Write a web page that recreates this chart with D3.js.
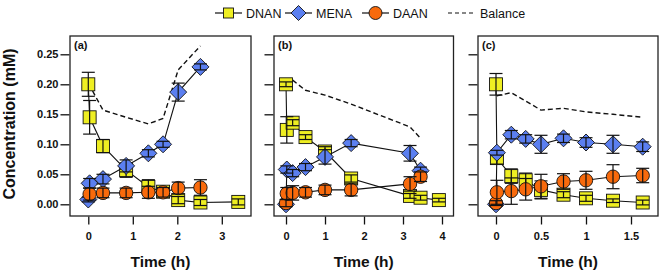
<!DOCTYPE html>
<html>
<head>
<meta charset="utf-8">
<script src="https://cdn.jsdelivr.net/npm/d3@7"></script>
<style>
  body { margin: 0; background: #fff; }
  svg { display: block; font-family: "Liberation Sans", Arial, sans-serif; }
</style>
</head>
<body>
<script>
// series names / colours
const seriesNames = ["DNAN", "MENA", "DAAN"];
const seriesColors = ["#eeee22", "#5b7ff0", "#f86a0c"];

// panel (a)
const timeA = [0, 0.03, 0.33, 0.85, 1.35, 1.68, 2.02, 2.52, 3.37];
const dnanA = [0.200, 0.145, 0.097, 0.057, 0.029, 0.021, 0.007, 0.003, 0.004];
const dnanErrA = [0.020, 0.028, 0.011, 0.012, 0.012, 0.006, 0.006, 0.005, 0.005];
const menaA = [0.008, 0.035, 0.042, 0.064, 0.085, 0.100, 0.187, 0.229, null];
const menaErrA = [0.004, 0.008, 0.008, 0.010, 0.006, 0.005, 0.015, 0.005, null];
const daanA = [null, 0.017, 0.019, 0.019, 0.020, 0.020, 0.027, 0.028, null];
const daanErrA = [null, 0.010, 0.008, 0.008, 0.010, 0.008, 0.010, 0.013, null];
const balanceA = [0.200, 0.198, 0.157, 0.145, 0.134, 0.143, 0.224, 0.264, null];

// panel (b)
const timeB = [0, 0.02, 0.17, 0.5, 1.0, 1.67, 3.18, 3.45, 3.92];
const dnanB = [0.200, 0.124, 0.136, 0.112, 0.088, 0.043, 0.014, 0.011, 0.007];
const dnanErrB = [0.004, 0.022, 0.005, 0.004, 0.008, 0.006, 0.004, 0.004, 0.003];
const menaB = [0.000, 0.058, 0.052, 0.062, 0.079, 0.102, 0.085, 0.056, null];
const menaErrB = [0.003, 0.006, 0.006, 0.006, 0.012, 0.006, 0.013, 0.006, null];
const daanB = [0.002, 0.018, 0.019, 0.020, 0.024, 0.024, 0.034, 0.046, null];
const daanErrB = [0.006, 0.010, 0.012, 0.008, 0.008, 0.010, 0.012, 0.008, null];
const balanceB = [0.200, 0.200, 0.207, 0.190, 0.182, 0.167, 0.129, 0.110, null];

// panel (c)
const timeC = [0, 0.01, 0.17, 0.33, 0.5, 0.75, 1.0, 1.3, 1.63];
const dnanC = [0.200, 0.077, 0.047, 0.040, 0.024, 0.016, 0.010, 0.006, 0.003];
const dnanErrC = [0.018, 0.010, 0.012, 0.012, 0.015, 0.005, 0.005, 0.003, 0.004];
const menaC = [0.000, 0.086, 0.116, 0.109, 0.100, 0.110, 0.103, 0.100, 0.096];
const menaErrC = [0.003, 0.004, 0.007, 0.007, 0.015, 0.007, 0.008, 0.015, 0.008];
const daanC = [0.002, 0.020, 0.022, 0.025, 0.030, 0.038, 0.040, 0.046, 0.048];
const daanErrC = [0.004, 0.020, 0.022, 0.018, 0.020, 0.013, 0.015, 0.020, 0.012];
const balanceC = [null, 0.181, 0.186, 0.172, 0.157, 0.160, 0.154, 0.150, 0.145];

// axes ticks
const yTicks = [0, 0.05, 0.10, 0.15, 0.20, 0.25];
const xTicksA = [0, 1, 2, 3];
const xTicksB = [0, 1, 2, 3, 4];
const xTicksC = [0, 0.5, 1, 1.5];

const W = 661, H = 273;
const plotTop = 36, plotBottom = 216;

const panels = [
  { label: "(a)", left: 70, right: 251, dom: [-0.411, 3.656], ticks: xTicksA, t: timeA,
    vals: [dnanA, menaA, daanA], errs: [dnanErrA, menaErrA, daanErrA], bal: balanceA, yLabels: true },
  { label: "(b)", left: 274, right: 453.5, dom: [-0.308, 4.295], ticks: xTicksB, t: timeB,
    vals: [dnanB, menaB, daanB], errs: [dnanErrB, menaErrB, daanErrB], bal: balanceB, yLabels: false },
  { label: "(c)", left: 478, right: 658, dom: [-0.2, 1.8], ticks: xTicksC, t: timeC,
    vals: [dnanC, menaC, daanC], errs: [dnanErrC, menaErrC, daanErrC], bal: balanceC, yLabels: false }
];

const svg = d3.select("body").append("svg")
  .attr("width", W)
  .attr("height", H);

const y = d3.scaleLinear().domain([-0.0195, 0.2805]).range([plotBottom, plotTop]);

// marker drawing
function marker(sel, kind, color) {
  if (kind === 0) {
    sel.append("rect").attr("x", -6.5).attr("y", -6.5).attr("width", 13).attr("height", 13);
  } else if (kind === 1) {
    sel.append("path").attr("d", "M0,-8.5L8.5,0L0,8.5L-8.5,0Z");
  } else {
    sel.append("circle").attr("r", 6.7);
  }
  sel.selectAll("rect,path,circle")
    .attr("fill", color)
    .attr("stroke", "#111")
    .attr("stroke-width", 0.9);
}

panels.forEach((p) => {
  const x = d3.scaleLinear().domain(p.dom).range([p.left, p.right]);
  const g = svg.append("g");

  // y axis
  const ya = d3.axisLeft(y).tickValues(yTicks).tickSize(9).tickPadding(2)
    .tickFormat(p.yLabels ? d3.format(".2f") : "");
  g.append("g").attr("transform", `translate(${p.left - 0.5},0)`).call(ya)
    .call((s) => s.select(".domain").remove());

  // x axis
  const xa = d3.axisBottom(x).tickValues(p.ticks).tickSize(8).tickPadding(8)
    .tickFormat(d3.format("~g"));
  g.append("g").attr("transform", `translate(0,${plotBottom + 0.5})`).call(xa)
    .call((s) => s.select(".domain").remove());

  g.selectAll(".tick line").attr("stroke", "#111").attr("stroke-width", 1.3);
  g.selectAll(".tick text").attr("font-size", 11).attr("font-weight", "bold")
    .attr("fill", "#111").attr("font-family", "Liberation Sans, Arial, sans-serif");

  // balance
  const pts = p.t.map((t, i) => [t, p.bal[i]]);
  const line = d3.line().defined((d) => d[1] != null).x((d) => x(d[0])).y((d) => y(d[1]));
  g.append("path").attr("d", line(pts))
    .attr("fill", "none").attr("stroke", "#111").attr("stroke-width", 1.4)
    .attr("stroke-dasharray", "5,3");

  // series
  p.vals.forEach((vals, k) => {
    const data = p.t.map((t, i) => ({ t: t, v: vals[i], e: p.errs[k][i] })).filter((d) => d.v != null);
    g.append("path")
      .attr("d", d3.line().x((d) => x(d.t)).y((d) => y(d.v))(data))
      .attr("fill", "none").attr("stroke", "#111").attr("stroke-width", 1.1);

    data.forEach((d) => {
      const m = g.append("g").attr("transform", `translate(${x(d.t)},${y(d.v)})`);
      marker(m, k, seriesColors[k]);
    });

    // error bars over markers
    const eb = g.append("g").attr("stroke", "#111").attr("stroke-width", 1.2);
    data.forEach((d) => {
      const cx = x(d.t), y1 = y(d.v + d.e), y2 = y(d.v - d.e);
      eb.append("line").attr("x1", cx).attr("x2", cx).attr("y1", y1).attr("y2", y2);
      eb.append("line").attr("x1", cx - 6.5).attr("x2", cx + 6.5).attr("y1", y1).attr("y2", y1);
      eb.append("line").attr("x1", cx - 6.5).attr("x2", cx + 6.5).attr("y1", y2).attr("y2", y2);
    });
  });

  // frame
  g.append("rect")
    .attr("x", p.left).attr("y", plotTop)
    .attr("width", p.right - p.left).attr("height", plotBottom - plotTop)
    .attr("fill", "none").attr("stroke", "#222").attr("stroke-width", 1.3);

  g.append("text").attr("x", p.left + 4).attr("y", plotTop + 13)
    .attr("font-size", 11).attr("font-weight", "bold").attr("fill", "#111")
    .text(p.label);

  g.append("text").attr("x", (p.left + p.right) / 2).attr("y", 267)
    .attr("text-anchor", "middle").attr("font-size", 15.5).attr("font-weight", "bold")
    .attr("fill", "#111").text("Time (h)");
});

// y title
svg.append("text")
  .attr("transform", `translate(15,${(plotTop + plotBottom) / 2 - 2}) rotate(-90)`)
  .attr("text-anchor", "middle").attr("font-size", 16).attr("font-weight", "bold")
  .attr("fill", "#111").text("Concentration (mM)");

// legend
const legend = svg.append("g");
const legX = [215, 285, 362];
seriesNames.forEach((name, k) => {
  const lg = legend.append("g").attr("transform", `translate(${legX[k]},13)`);
  lg.append("line").attr("x1", 0).attr("x2", 27).attr("stroke", "#111").attr("stroke-width", 1.2);
  const m = lg.append("g").attr("transform", "translate(13.5,0)");
  if (k === 0) {
    m.append("rect").attr("x", -5).attr("y", -5).attr("width", 10).attr("height", 10);
  } else if (k === 1) {
    m.append("path").attr("d", "M0,-7.5L7.5,0L0,7.5L-7.5,0Z");
  } else {
    m.append("circle").attr("r", 6.5);
  }
  m.selectAll("*").attr("fill", seriesColors[k]).attr("stroke", "#111").attr("stroke-width", 0.9);
  lg.append("text").attr("x", 31).attr("y", 4.5).attr("font-size", 12.5).attr("fill", "#111").text(name);
});
const bl = legend.append("g").attr("transform", "translate(448,13)");
bl.append("line").attr("x1", 0).attr("x2", 27).attr("stroke", "#111")
  .attr("stroke-width", 1.2).attr("stroke-dasharray", "4,3");
bl.append("text").attr("x", 32).attr("y", 4.5).attr("font-size", 12.5).attr("fill", "#111").text("Balance");
</script>
</body>
</html>
